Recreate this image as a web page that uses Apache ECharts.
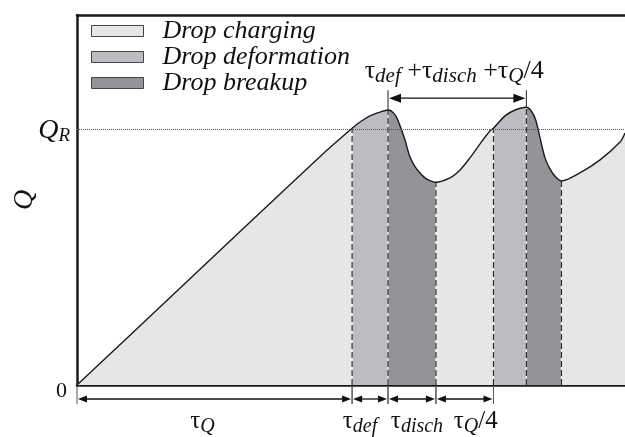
<!DOCTYPE html>
<html>
<head>
<meta charset="utf-8">
<script src="https://cdn.jsdelivr.net/npm/echarts@6/dist/echarts.min.js"></script>
<style>html,body{margin:0;padding:0;background:#fff}#c{width:625px;height:437px}</style>
</head>
<body>
<div id="c"></div>
<script>
// ---- data (time in arbitrary units, charge Q normalised to Q_R = 1) ----
const timeMax = 200;
const qMax = 1.445;
const QR = 1;
const curveT = [0, 30, 60, 90, 96, 100.4, 103.7, 106.9, 110.6, 113.5, 116.1, 117.9, 119.7, 121.5, 123.4, 125.2, 127, 129, 131, 136.1, 139.8, 143.4, 147.1, 150.7, 152, 156.2, 159.9, 164, 165.8, 167.4, 169, 170.8, 172.6, 174.5, 176.8, 183.5, 190.9, 198.2, 200];
const curveQ = [0, 0.302, 0.604, 0.905, 0.962, 1.003, 1.030, 1.051, 1.066, 1.074, 1.055, 1.012, 0.957, 0.891, 0.852, 0.828, 0.809, 0.797, 0.792, 0.809, 0.84, 0.887, 0.942, 0.992, 1.003, 1.051, 1.074, 1.085, 1.07, 1.035, 0.965, 0.887, 0.844, 0.815, 0.797, 0.828, 0.879, 0.949, 0.984];
const phaseNames = ['Drop charging', 'Drop deformation', 'Drop breakup'];
const phaseColors = ['#e6e6e7', '#bcbdc0', '#939497'];
const phaseBounds = [100.4, 113.5, 131, 152, 164, 176.8];
const phaseSeq = [0, 1, 2, 0, 1, 2, 0];
const tauMarks = [0, 100.4, 113.5, 131, 152];
const tauLabels = ['{t|τ}{s|Q}', '{t|τ}{s|def}', '{t|τ}{s|disch}', '{t|τ}{s|Q}{t|/4}'];
const cycleSpan = [113.5, 164];
const cycleLabel = '{t|τ}{s|def}{t| +τ}{s|disch}{t| +τ}{s|Q}{t|/4}';
const yTickLabels = {0: '0', 1: 'Q_R'};

// ---- helpers ----
function qAt(t) {
  for (let i = 0; i < curveT.length - 1; i++) {
    if (t >= curveT[i] && t <= curveT[i + 1]) {
      const f = (t - curveT[i]) / (curveT[i + 1] - curveT[i]);
      return curveQ[i] + f * (curveQ[i + 1] - curveQ[i]);
    }
  }
  return curveQ[curveQ.length - 1];
}
const curveData = curveT.map((t, i) => [t, curveQ[i]]);
const serif = 'Liberation Serif';
function richFor(main, sub) {
  return {
    t: {fontFamily: serif, fontSize: main, fill: '#111', lineHeight: 32, verticalAlign: 'middle'},
    s: {fontFamily: serif, fontSize: sub, fontStyle: 'italic', fill: '#111', lineHeight: 32, verticalAlign: 'bottom'}
  };
}
const pieces = [];
const edges = [0].concat(phaseBounds).concat([timeMax]);
for (let i = 0; i < phaseSeq.length; i++) {
  const p = {color: phaseColors[phaseSeq[i]]};
  if (i > 0) p.gte = edges[i];
  if (i < phaseSeq.length - 1) p.lt = edges[i + 1];
  pieces.push(p);
}
function arrow(x0, x1, y, len, hw, color) {
  return [
    {type: 'line', shape: {x1: x0 + len * 0.6, y1: y, x2: x1 - len * 0.6, y2: y}, style: {stroke: color, lineWidth: 1.3}},
    {type: 'polygon', shape: {points: [[x0, y], [x0 + len, y - hw], [x0 + len, y + hw]]}, style: {fill: color}},
    {type: 'polygon', shape: {points: [[x1, y], [x1 - len, y - hw], [x1 - len, y + hw]]}, style: {fill: color}}
  ];
}
const labelDx = [-12, -10, 5, 11];
const smoothness = 0.3;

const chart = echarts.init(document.getElementById('c'), null, {renderer: 'canvas'});
chart.setOption({
  animation: false,
  backgroundColor: '#fff',
  grid: {left: 77, right: 0, top: 15, bottom: 52, containLabel: false, outerBoundsMode: 'none'},
  legend: {
    orient: 'vertical', left: 86, top: 13, itemWidth: 52, itemHeight: 11, itemGap: 0,
    icon: 'rect', data: phaseNames, selectedMode: false,
    itemStyle: {borderColor: '#444', borderWidth: 1},
    textStyle: {fontFamily: serif, fontStyle: 'italic', fontSize: 26, color: '#111', lineHeight: 25.5, padding: [0, 0, 0, 14]}
  },
  visualMap: {type: 'piecewise', show: false, dimension: 0, seriesIndex: 0, pieces: pieces},
  xAxis: [
    {type: 'value', min: 0, max: timeMax, position: 'bottom',
      axisLine: {onZero: false, lineStyle: {color: '#1a1a1a', width: 2.5}},
      axisTick: {show: false}, axisLabel: {show: false}, splitLine: {show: false}},
    {type: 'value', min: 0, max: timeMax, position: 'top',
      axisLine: {onZero: false, lineStyle: {color: '#1a1a1a', width: 2.5}},
      axisTick: {show: false}, axisLabel: {show: false}, splitLine: {show: false}}
  ],
  yAxis: {
    type: 'value', min: 0, max: qMax, interval: 1,
    name: 'Q', nameLocation: 'middle', nameGap: 38, nameMoveOverlap: false,
    nameTextStyle: {fontFamily: serif, fontStyle: 'italic', fontSize: 28, color: '#111'},
    axisLine: {lineStyle: {color: '#1a1a1a', width: 2.5}},
    axisTick: {show: false}, splitLine: {show: false},
    axisLabel: {
      margin: 7, showMaxLabel: false,
      formatter: function (v) {
        const s = yTickLabels[v];
        if (s === undefined) return '';
        if (s === 'Q_R') return '{q|Q}{r|R}';
        return '{z|' + s + '}';
      },
      rich: {
        z: {fontFamily: serif, fontSize: 22, color: '#111', padding: [12, 3, 0, 0]},
        q: {fontFamily: serif, fontStyle: 'italic', fontSize: 28, color: '#111', lineHeight: 34, verticalAlign: 'middle', padding: [3, 0, 0, 0]},
        r: {fontFamily: serif, fontStyle: 'italic', fontSize: 19, color: '#111', lineHeight: 34, verticalAlign: 'bottom'}
      }
    }
  },
  series: [
    {
      type: 'line', data: curveData, smooth: smoothness, showSymbol: false, silent: true,
      lineStyle: {width: 0}, areaStyle: {opacity: 1}, z: 1
    },
    {
      type: 'custom', silent: true, clip: false, z: 2,
      data: phaseBounds.map(t => [t, qAt(t)]),
      renderItem: function (params, api) {
        const t = api.value(0);
        const p0 = api.coord([t, 0]);
        const p1 = api.coord([t, api.value(1)]);
        return {type: 'group', children: [
          {type: 'line', shape: {x1: p0[0], y1: p0[1], x2: p1[0], y2: p1[1]}, style: {stroke: '#ffffff', lineWidth: 1.3, opacity: 0.85}},
          {type: 'line', shape: {x1: p0[0], y1: p0[1], x2: p1[0], y2: p1[1]}, style: {stroke: '#2a2a2a', lineWidth: 1.2, lineDash: [6, 3]}}
        ]};
      }
    },
    {
      type: 'line', data: curveData, smooth: smoothness, showSymbol: false, silent: true,
      lineStyle: {color: '#1a1a1a', width: 1.4}, z: 3,
      markLine: {
        silent: true, symbol: 'none', label: {show: false},
        lineStyle: {color: '#555', type: 'dotted', width: 1},
        data: [{yAxis: QR}]
      }
    },
    {
      type: 'custom', silent: true, clip: false, z: 4,
      data: tauMarks.slice(0, -1).map((t, i) => [t, tauMarks[i + 1], i]),
      renderItem: function (params, api) {
        const a = api.coord([api.value(0), 0]);
        const b = api.coord([api.value(1), 0]);
        const i = api.value(2);
        const y = a[1];
        const kids = [
          {type: 'line', shape: {x1: a[0], y1: y + 1, x2: a[0], y2: y + 19}, style: {stroke: '#555', lineWidth: 1}},
          {type: 'line', shape: {x1: b[0], y1: y + 1, x2: b[0], y2: y + 19}, style: {stroke: '#555', lineWidth: 1}}
        ].concat(arrow(a[0] + 1, b[0] - 1, y + 14, 9, 3.5, '#111'));
        kids.push({type: 'text', style: {text: tauLabels[i], rich: richFor(25, 20), x: (a[0] + b[0]) / 2 + labelDx[i], y: y + 36, align: 'center', verticalAlign: 'middle'}});
        return {type: 'group', children: kids};
      }
    },
    {
      type: 'custom', silent: true, clip: false, z: 4,
      data: [[cycleSpan[0], cycleSpan[1]]],
      renderItem: function (params, api) {
        const t0 = api.value(0), t1 = api.value(1);
        const a = api.coord([t0, qAt(t0)]);
        const b = api.coord([t1, qAt(t1)]);
        const y = Math.min(a[1], b[1]) - 9;
        const kids = [
          {type: 'line', shape: {x1: a[0], y1: y - 8, x2: a[0], y2: a[1]}, style: {stroke: '#222', lineWidth: 1}},
          {type: 'line', shape: {x1: b[0], y1: y - 8, x2: b[0], y2: b[1]}, style: {stroke: '#222', lineWidth: 1}}
        ].concat(arrow(a[0] + 1, b[0] - 1, y, 12, 4.5, '#111'));
        kids.push({type: 'text', style: {text: cycleLabel, rich: richFor(26, 21), x: (a[0] + b[0]) / 2 - 3, y: y - 27, align: 'center', verticalAlign: 'middle'}});
        return {type: 'group', children: kids};
      }
    }
  ].concat(phaseNames.map((n, i) => ({
    name: n, type: 'line', data: [], itemStyle: {color: phaseColors[i]}
  })))
});
</script>
</body>
</html>
